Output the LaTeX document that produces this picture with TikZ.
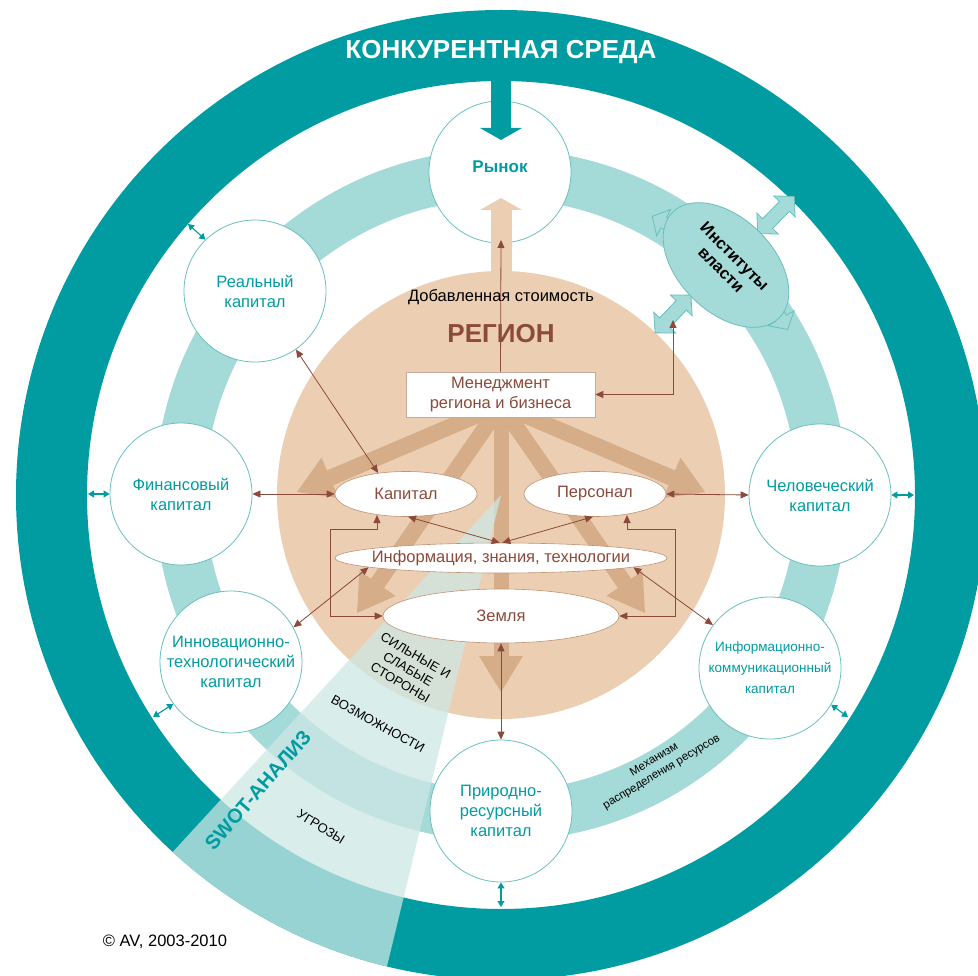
\documentclass[tikz,border=0pt]{standalone}
\usepackage{fontspec}
\setmainfont{Liberation Sans}
\usetikzlibrary{arrows.meta,calc,shapes.geometric}
\definecolor{cTeal}{RGB}{0,156,161}
\definecolor{cRing}{RGB}{164,218,215}
\definecolor{cPeach}{RGB}{236,206,178}
\definecolor{cDPeach}{RGB}{214,173,137}
\definecolor{cBrown}{RGB}{140,74,58}
\definecolor{cBorder}{RGB}{105,192,190}
\definecolor{cSwot}{RGB}{205,231,229}
\definecolor{cEllB}{RGB}{192,146,116}
\definecolor{cRectB}{RGB}{200,170,155}
\tikzset{
  capc/.style={circle, draw=cBorder, line width=0.8pt, fill=white, minimum size=142pt, inner sep=0pt,
    align=center, text=cTeal, font=\fontsize{16.5}{20}\selectfont},
  inell/.style={ellipse, draw=cEllB, line width=0.6pt, fill=white, inner sep=0pt},
  etext/.style={text=cBrown, font=\fontsize{16.5}{20}\selectfont, inner sep=0pt},
  bigarrow/.style={draw=cDPeach, line width=16pt, -{Triangle[width=44pt,length=36pt,line width=0pt]}},
  brn/.style={draw=cBrown, line width=0.8pt},
  brnboth/.style={brn, {Triangle[length=8pt,width=7pt]}-{Triangle[length=8pt,width=7pt]}},
  brnone/.style={brn, -{Triangle[length=8pt,width=7pt]}},
  tealboth/.style={draw=cTeal, line width=1.1pt, {Triangle[length=6pt,width=7pt]}-{Triangle[length=6pt,width=7pt]}},
  blockarr/.style={fill=cRing, draw=cBorder, line width=0.8pt},
  swottext/.style={font=\fontsize{13}{15.5}\selectfont, align=center, inner sep=0pt}
}
\begin{document}
\begin{tikzpicture}[x=1pt,y=-1pt]
\useasboundingbox (0,0) rectangle (978,976);
\clip (0,0) rectangle (978,976);
\fill[white] (0,0) rectangle (978,976);
\coordinate (C) at (501,495);
% rings
\fill[cTeal,even odd rule] (C) circle[radius=485] (C) circle[radius=414];
\fill[cRing,even odd rule] (C) circle[radius=346] (C) circle[radius=296];
\fill[cPeach] (C) circle[radius=224];
% big arrows from management
\coordinate (hub) at (501,405);
\coordinate (t1) at (297,492);
\coordinate (t2) at (357,613);
\coordinate (t3) at (501,692);
\coordinate (t4) at (645,613);
\coordinate (t5) at (705,492);
\draw[bigarrow] (hub) -- (t1);
\draw[bigarrow] (hub) -- (t2);
\draw[bigarrow, line width=15pt] (hub) -- (t3);
\draw[bigarrow] (hub) -- (t4);
\draw[bigarrow] (hub) -- (t5);
% SWOT wedge
\begin{scope}
  \clip (C) circle[radius=485];
  \fill[cSwot, opacity=0.74] (C) -- ($(C)+(103.6:700)$) -- ($(C)+(118:800)$) -- ($(C)+(132.6:700)$) -- cycle;
\end{scope}
% capital circles
\node[capc] (rynok) at (500,172) {};
\node[capc] (real) at (255,291) {Реальный\\капитал};
\node[capc] (fin) at (181,494) {Финансовый\\капитал};
\node[capc] (inn) at (231,662) {Инновационно-\\технологический\\капитал};
\node[capc] (prir) at (501,811) {Природно-\\ресурсный\\капитал};
\node[capc, font=\fontsize{13.5}{21}\selectfont] (ikk) at (770,668) {Информационно-\\коммуникационный\\капитал};
\node[capc] (chel) at (820,495) {Человеческий\\капитал};
% arrows through market
\coordinate (pu0) at (501,272);
\coordinate (pu1) at (501,198);
\draw[cPeach, line width=21pt, -{Triangle[width=42pt,length=12pt,line width=0pt]}] (pu0) -- (pu1);
\coordinate (td0) at (501,70);
\coordinate (td1) at (501,140);
\draw[cTeal, line width=20pt, -{Triangle[width=42pt,length=12pt,line width=0pt]}] (td0) -- (td1);
% institutions: tangent arrow heads along the ring
\begin{scope}[shift={($(C)+(-61.5:317)$)}, rotate=152]
  \filldraw[blockarr] (-30,-6) -- (-13,-6) -- (-13,-15) -- (0,0) -- (-13,15) -- (-13,6) -- (-30,6) -- cycle;
\end{scope}
\begin{scope}[shift={($(C)+(-30:331)$)}, rotate=-60]
  \filldraw[blockarr] (-30,-6) -- (-13,-6) -- (-13,-15) -- (0,0) -- (-13,15) -- (-13,6) -- (-30,6) -- cycle;
\end{scope}
\begin{scope}[shift={(776,215)}, rotate=45.5]
  \filldraw[blockarr] (-26,0) -- (-12,-15) -- (-12,-7) -- (12,-7) -- (12,-15) -- (26,0) -- (12,15) -- (12,7) -- (-12,7) -- (-12,15) -- cycle;
\end{scope}
\begin{scope}[shift={(673,314)}, rotate=46.5]
  \filldraw[blockarr] (-26,0) -- (-12,-15) -- (-12,-7) -- (12,-7) -- (12,-15) -- (26,0) -- (12,15) -- (12,7) -- (-12,7) -- (-12,15) -- cycle;
\end{scope}
\node[ellipse, rotate=-44.5, fill=cRing, draw=cBorder, line width=0.8pt, minimum width=150pt, minimum height=94pt, inner sep=0pt] (inst) at (726,265) {};
% inner ellipses
\node[inell, minimum width=142pt, minimum height=45pt] (kap) at (406,494) {};
\node[inell, minimum width=142pt, minimum height=45pt] (pers) at (595,494) {};
\node[inell, minimum width=332pt, minimum height=30pt] (info) at (501,558) {};
\node[inell, minimum width=236pt, minimum height=54pt] (zem) at (501,616) {};
\node[draw=cRectB, fill=white, line width=0.7pt, minimum width=189pt, minimum height=45pt, inner sep=0pt,
  align=center, text=cBrown, font=\fontsize{16.5}{20}\selectfont] (men) at (500.5,394.5) {Менеджмент\\региона и бизнеса};
% thin brown connectors
\coordinate (kb) at (377,515);
\coordinate (pb) at (627,515);
\coordinate (lbc) at (330,529);
\coordinate (rbc) at (675,529);
\coordinate (va) at (501,240);
\coordinate (ib) at (673,320);
\draw[brnboth] (real.-55) -- (kap.143);
\draw[brnboth] (fin.east) -- (kap.west);
\draw[brnboth] (pers.east) -- (chel.west);
\draw[brnboth] (kap.-85) -- (info.95);
\draw[brnboth] (pers.-95) -- (info.85);
\draw[brnboth] (zem.west) -| (lbc) -| (kb);
\draw[brnboth] (zem.east) -| (rbc) -| (pb);
\draw[brnboth] (info.184) -- (inn.29);
\draw[brnboth] (info.-4) -- (ikk.143);
\draw[brnboth] (zem.south) -- (prir.north);
\draw[brnone] (men.north) -- (va);
\draw[brnboth] (men.east) -| (ib);
% teal small arrows to environment
\coordinate (e1) at (188,224);
\coordinate (e2) at (88,494);
\coordinate (e3) at (914,495);
\coordinate (e4) at (153,717);
\coordinate (e5) at (848,717);
\coordinate (e6) at (501,907);
\draw[tealboth] (e1) -- (real.134);
\draw[tealboth] (e2) -- (fin.west);
\draw[tealboth] (chel.east) -- (e3);
\draw[tealboth] (e4) -- (inn.216);
\draw[tealboth] (ikk.-31) -- (e5);
\draw[tealboth] (prir.south) -- (e6);
% texts
\node[text=white, font=\bfseries\fontsize{26}{30}\selectfont] (title) at (501,52) {КОНКУРЕНТНАЯ СРЕДА};
\node[text=cTeal, font=\bfseries\fontsize{17}{20}\selectfont] (rynokt) at (500,167) {Рынок};
\node[font=\fontsize{16.5}{20}\selectfont] (dob) at (501,297) {Добавленная стоимость};
\node[text=cBrown, font=\bfseries\fontsize{26}{30}\selectfont] (reg) at (501,334) {РЕГИОН};
\node[etext] (kapt) at (kap) {Капитал};
\node[etext] (perst) at (pers) {Персонал};
\node[etext] (infot) at (info) {Информация, знания, технологии};
\node[etext] (zemt) at (zem) {Земля};
\node[rotate=-45, align=center, font=\bfseries\fontsize{16.5}{19}\selectfont] (instt) at (728,263) {Институты\\власти};
\node[swottext, rotate=-30] (sw1) at (408,669) {СИЛЬНЫЕ И\\СЛАБЫЕ\\СТОРОНЫ};
\node[swottext, rotate=-29] (sw2) at (378,724) {ВОЗМОЖНОСТИ};
\node[swottext, rotate=-32] (sw3) at (321,827) {УГРОЗЫ};
\node[text=cTeal, rotate=49, font=\bfseries\fontsize{20}{24}\selectfont] (swot) at (258,790) {SWOT-АНАЛИЗ};
\node[rotate=31, align=center, font=\fontsize{11.5}{14.5}\selectfont] (mech) at (658,766) {Механизм\\распределения ресурсов};
\node[font=\fontsize{16.5}{20}\selectfont] (copy) at (165,942) {© AV, 2003-2010};
\end{tikzpicture}
\end{document}
